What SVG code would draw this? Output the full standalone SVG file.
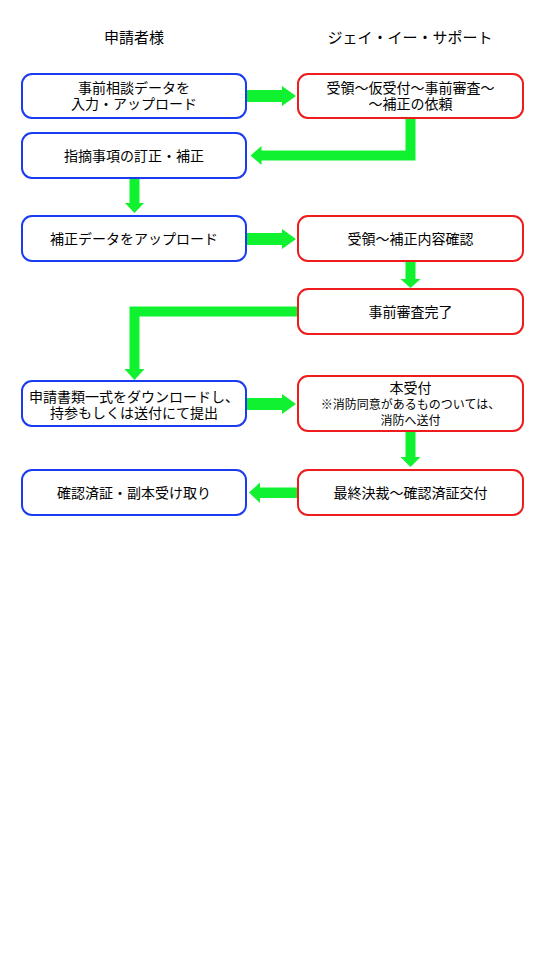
<svg xmlns="http://www.w3.org/2000/svg" width="550" height="978" viewBox="0 0 550 978">
<style>
text{font-family:"Noto Sans CJK JP","Noto Sans",sans-serif;fill:#000;text-anchor:middle;}
.h{font-size:15px;}
.t{font-size:14px;}
.s{font-size:12px;}
.bl{fill:#fff;stroke:#1a3cf0;stroke-width:2;}
.rd{fill:#fff;stroke:#ee1c1c;stroke-width:2;}
.ar{fill:#10f22f;stroke:none;}
</style>
<rect width="550" height="978" fill="#fff"/>
<g id="headers">
<text class="h" x="134" y="43">申請者様</text>
<text class="h" x="410" y="43">ジェイ・イー・サポート</text>
</g>
<g id="connectors">
<polygon class="ar" points="247,90 282,90 282,86 296,96 282,106 282,102 247,102"/>
<polygon class="ar" points="405.5,118 415.5,118 415.5,160.5 261.5,160.5 261.5,165 250.5,155.5 261.5,146 261.5,150.5 405.5,150.5"/>
<polygon class="ar" points="129.5,178 139.5,178 139.5,203 144,203 134.5,213 125,203 129.5,203"/>
<polygon class="ar" points="247,233 282,233 282,229 296,239 282,249 282,245 247,245"/>
<polygon class="ar" points="405.5,261 415.5,261 415.5,279 420.5,279 410.5,288 400.5,279 405.5,279"/>
<polygon class="ar" points="298,306.5 298,316.5 139.5,316.5 139.5,369 144.5,369 134.5,380 124.5,369 129.5,369 129.5,306.5"/>
<polygon class="ar" points="247,398 282,398 282,394 296,404 282,414 282,410 247,410"/>
<polygon class="ar" points="405.5,431 415.5,431 415.5,457 420.5,457 410.5,467 400.5,457 405.5,457"/>
<polygon class="ar" points="297,487.5 260,487.5 260,482.5 249,492.5 260,503 260,498 297,498"/>
</g>
<g id="n1"><rect class="bl" x="22" y="74" width="224" height="44" rx="10"/><text class="t" x="134" y="93">事前相談データを</text><text class="t" x="134" y="109">入力・アップロード</text></g>
<g id="n2"><rect class="rd" x="298" y="74" width="225" height="44" rx="10"/><text class="t" x="410.5" y="93">受領～仮受付～事前審査～</text><text class="t" x="410.5" y="109">～補正の依頼</text></g>
<g id="n3"><rect class="bl" x="22" y="133" width="224" height="45" rx="10"/><text class="t" x="134" y="160.5">指摘事項の訂正・補正</text></g>
<g id="n4"><rect class="bl" x="22" y="216" width="224" height="45" rx="10"/><text class="t" x="134" y="243.5">補正データをアップロード</text></g>
<g id="n5"><rect class="rd" x="298" y="216" width="225" height="45" rx="10"/><text class="t" x="410.5" y="243.5">受領～補正内容確認</text></g>
<g id="n6"><rect class="rd" x="298" y="289" width="225" height="45" rx="10"/><text class="t" x="410.5" y="316.5">事前審査完了</text></g>
<g id="n7"><rect class="bl" x="22" y="381" width="224" height="45" rx="10"/><text class="t" x="134" y="402">申請書類一式をダウンロードし、</text><text class="t" x="134" y="418">持参もしくは送付にて提出</text></g>
<g id="n8"><rect class="rd" x="298" y="376" width="225" height="55" rx="10"/><text class="t" x="410.5" y="393">本受付</text><text class="s" x="410.5" y="409">※消防同意があるものついては、</text><text class="s" x="410.5" y="425">消防へ送付</text></g>
<g id="n9"><rect class="bl" x="22" y="470" width="224" height="45" rx="10"/><text class="t" x="134" y="497.5">確認済証・副本受け取り</text></g>
<g id="n10"><rect class="rd" x="298" y="470" width="225" height="45" rx="10"/><text class="t" x="410.5" y="497.5">最終決裁～確認済証交付</text></g>
</svg>
